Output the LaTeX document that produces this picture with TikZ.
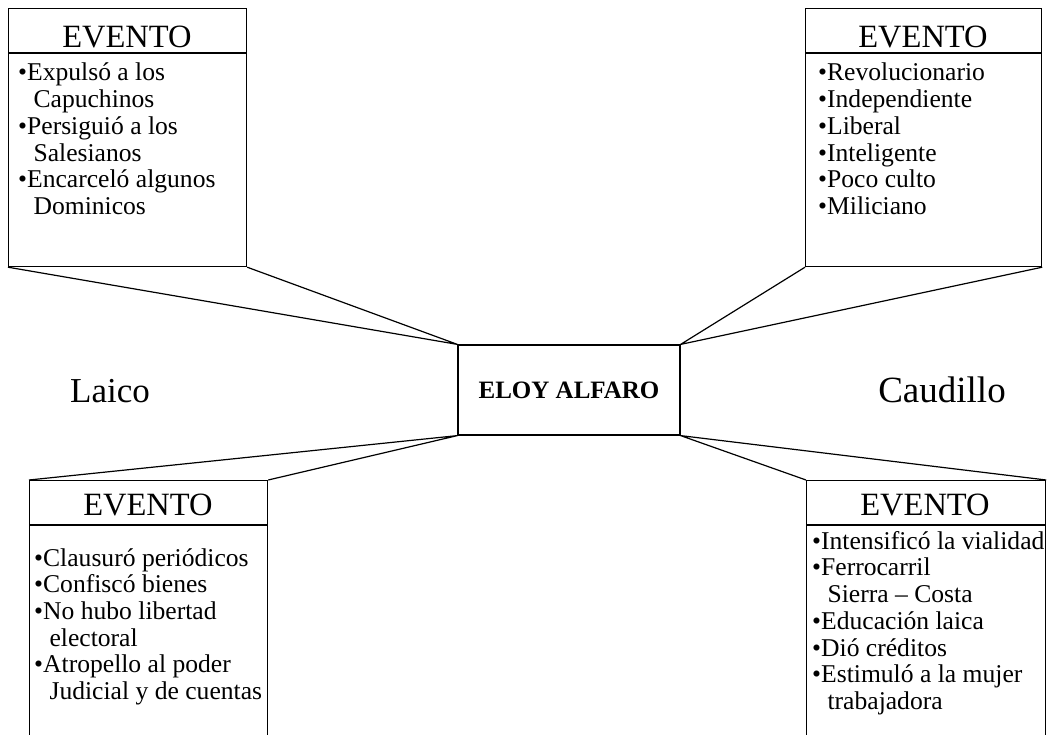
\documentclass[tikz,border=0pt]{standalone}
\usepackage{fontspec}
\setmainfont{Liberation Serif}
\usetikzlibrary{positioning}

\begin{document}
\begin{tikzpicture}[
    x=1pt, y=-1pt,
    frame/.style={draw, line width=1.2pt, inner sep=0, anchor=north west,
                  minimum width=238pt, minimum height=258pt},
    title/.style={font=\fontsize{32.5}{36}\selectfont, anchor=base},
    items/.style={align=left, inner sep=0, anchor=north west,
                  font=\fontsize{25.6}{26.7}\selectfont},
    side/.style={font=\fontsize{35}{40}\selectfont, anchor=base},
    link/.style={line width=1.2pt}
]
\useasboundingbox (0,0) rectangle (1051,735);
\newcommand{\cont}{\phantom{•}\ }

% centre
\node[draw, line width=1.2pt, minimum width=222pt, minimum height=90pt,
      font=\fontsize{25}{28}\selectfont\bfseries] (eloy) at (569,390) {ELOY ALFARO};
\node[side] (laico) at (110,402) {Laico};
\node[side, font=\fontsize{37}{40}\selectfont] (caudillo) at (942,402) {Caudillo};

% the four boxes
\node[frame] (tl) at (8,8) {};
\node[frame, minimum width=236pt] (tr) at (805,8) {};
\node[frame, minimum height=262pt] (bl) at (29,480) {};
\node[frame, minimum width=239pt, minimum height=262pt] (br) at (806,480) {};

\foreach \b in {tl,tr,bl,br}
  \draw[line width=1.2pt] ([yshift=-45pt]\b.north west) -- ([yshift=-45pt]\b.north east);

\node[title] (tlhead) at (127,48) {EVENTO};
\node[title] (trhead) at (923,48) {EVENTO};
\node[title] (blhead) at (148,515) {EVENTO};
\node[title] (brhead) at (925,515) {EVENTO};

\node[items] (tlitems) at (18,63) {•Expulsó a los\\\cont Capuchinos\\•Persiguió a los\\\cont Salesianos\\•Encarceló algunos\\\cont Dominicos};
\node[items] (tritems) at (818,63) {•Revolucionario\\•Independiente\\•Liberal\\•Inteligente\\•Poco culto\\•Miliciano};
\node[items] (blitems) at (34,548) {•Clausuró periódicos\\•Confiscó bienes\\•No hubo libertad\\\cont electoral\\•Atropello al poder\\\cont Judicial y de cuentas};
\node[items] (britems) at (812,531) {•Intensificó la vialidad\\•Ferrocarril\\\cont Sierra – Costa\\•Educación laica\\•Dió créditos\\•Estimuló a la mujer\\\cont trabajadora};

% connectors
\draw[link] (tl.south west) -- (eloy.north west) -- (tl.south east);
\draw[link] (tr.south west) -- (eloy.north east) -- (tr.south east);
\draw[link] (bl.north west) -- (eloy.south west) -- (bl.north east);
\draw[link] (br.north west) -- (eloy.south east) -- (br.north east);
\end{tikzpicture}
\end{document}
